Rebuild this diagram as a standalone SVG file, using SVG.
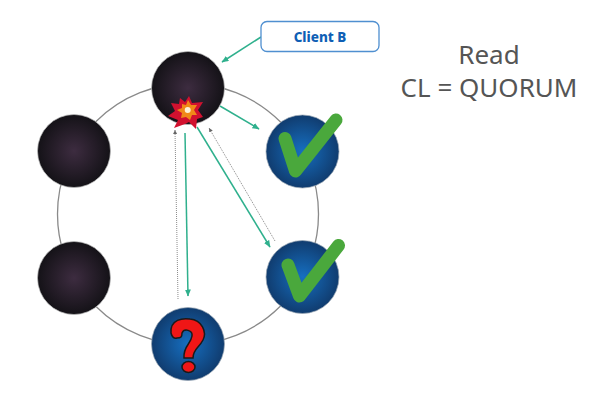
<svg xmlns="http://www.w3.org/2000/svg" width="597" height="405" viewBox="0 0 597 405">
<style>
.ring{fill:none;stroke:#8a8a8a;stroke-width:1.3}
.g{stroke:#2fb08d;stroke-width:1.5;fill:none;marker-end:url(#ga)}
.d{stroke:#8c8c8c;stroke-width:1;stroke-dasharray:1 1;fill:none;marker-end:url(#da)}
.dark{fill:url(#dk);stroke:#bdbdbd;stroke-width:.7}
.blue{fill:url(#bl);stroke:#9aa6b3;stroke-width:.7}
.chk{fill:none;stroke:#4aa83c;stroke-width:13;stroke-linecap:round;stroke-linejoin:round}
.t{font-family:"Noto Sans","Open Sans",sans-serif;font-size:26px;fill:#555;text-anchor:middle}
</style>
<defs>
<radialGradient id="dk"><stop offset="0" stop-color="#3d2c40"/><stop offset="1" stop-color="#141217"/></radialGradient>
<radialGradient id="bl"><stop offset="0" stop-color="#166fc1"/><stop offset="1" stop-color="#103c6f"/></radialGradient>
<marker id="ga" markerWidth="8" markerHeight="7" refX="6.5" refY="3" orient="auto" markerUnits="userSpaceOnUse"><path d="M0 0L7 3L0 6z" fill="#2fb08d"/></marker>
<marker id="da" markerWidth="6" markerHeight="5" refX="4" refY="2" orient="auto" markerUnits="userSpaceOnUse"><path d="M0 0L4 2L0 4z" fill="#666"/></marker>
</defs>
<circle class="ring" cx="188" cy="214" r="130.5"/>
<g id="connectors">
<line class="g" x1="261" y1="37" x2="222" y2="62"/>
<line class="g" x1="220" y1="106" x2="259" y2="129"/>
<line class="g" x1="197" y1="127" x2="270" y2="247"/>
<line class="g" x1="185" y1="133" x2="188" y2="296"/>
<line class="d" x1="275" y1="241" x2="209" y2="128"/>
<line class="d" x1="178" y1="299" x2="175" y2="130"/>
</g>
<g id="client-b">
<rect x="261" y="21.500" width="118" height="30" rx="6" fill="#fff" stroke="#4f8fd0" stroke-width="1.300"/>
<text x="320" y="42" font-family="Noto Sans,Open Sans,sans-serif" font-size="13.500" font-weight="800" fill="#0f5fb5" text-anchor="middle">Client B</text>
</g>
<g id="node-top"><circle class="dark" cx="188" cy="88" r="36.500"/>
<path fill="#d2112f" d="M189 96L192 103L203 102L198 110L203 117L197 119L196 129L189 122L185 124L174 128L178 120L168 116L175 111L171 103L179 104L180 98L185 102Z"/>
<path fill="#f08a18" d="M188 100L191 105L197 105L194 110L197 115L192 115L190 120L186 117L181 118L182 113L177 110L182 108L182 104L186 105Z"/>
<circle cx="187.700" cy="110" r="3" fill="#fdf2d8"/>
</g>
<g id="node-left-top"><circle class="dark" cx="74" cy="151" r="36.500"/></g>
<g id="node-left-bottom"><circle class="dark" cx="74" cy="278" r="36.500"/></g>
<g id="node-right-top"><circle class="blue" cx="302.500" cy="151.500" r="36.500"/><path class="chk" d="M285 138.500L295.500 171L336 120"/></g>
<g id="node-right-bottom"><circle class="blue" cx="302.500" cy="277" r="36.500"/><path class="chk" d="M288 265L299.500 296L338.500 245.500"/></g>
<g id="node-bottom"><circle class="blue" cx="188" cy="344" r="36.500"/>
<path d="M171 333C170 319 183 318 190 319C202 320 207 332 203 340C199 348 193 349 193 358L184 358C183 346 191 344 192 336C193 330 184 328 182 333C182 337 181 338 177 338C174 339 172 337 171 333Z" fill="#f01616" stroke="#1a1a1a" stroke-width="1.500"/>
<ellipse cx="188.500" cy="367" rx="6.500" ry="5.500" fill="#f01616" stroke="#1a1a1a" stroke-width="1.500"/>
</g>
<text class="t" x="489" y="64">Read</text>
<text class="t" x="489" y="97">CL = QUORUM</text>
</svg>
